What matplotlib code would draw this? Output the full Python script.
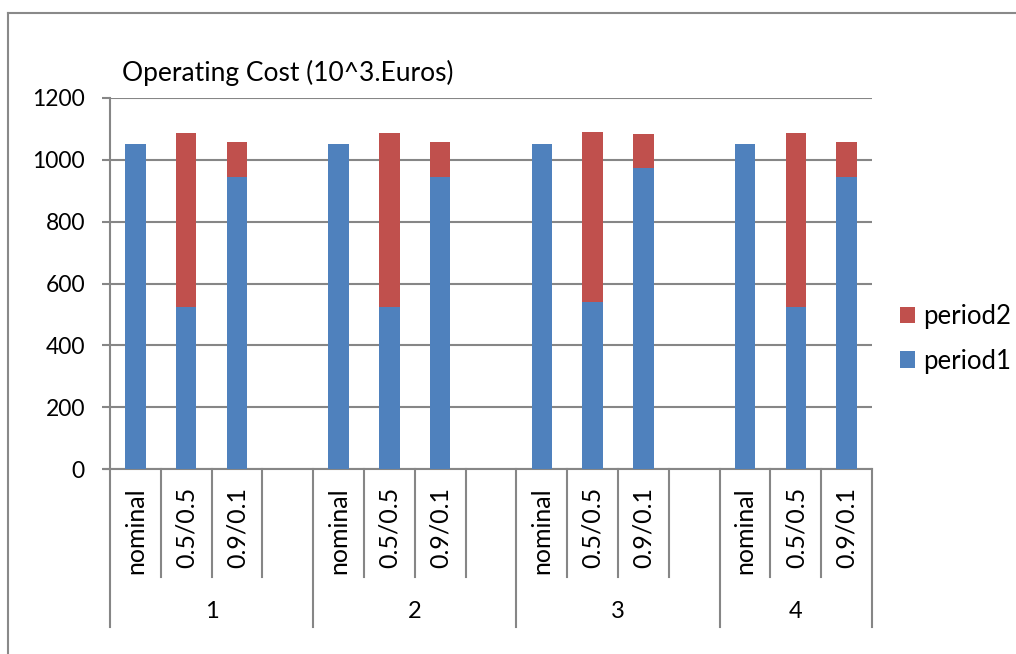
import numpy as np
import matplotlib.pyplot as plt
from matplotlib.lines import Line2D

plt.rcParams['font.family'] = ['Lato', 'DejaVu Sans']

groups = ['1', '2', '3', '4']
cases = ['nominal', '0.5/0.5', '0.9/0.1']
# period1 / period2 par groupe (nominal, 0.5/0.5, 0.9/0.1)
period1 = [
    [1050, 524, 946],
    [1050, 524, 946],
    [1050, 541, 972],
    [1050, 524, 946],
]
period2 = [
    [0, 562, 111],
    [0, 562, 111],
    [0, 549, 110],
    [0, 562, 111],
]
yticks = [0, 200, 400, 600, 800, 1000, 1200]

blue = '#4F81BD'
red = '#C0504D'
grid_c = '#868686'

W, H = 1016, 654
fig = plt.figure(figsize=(W / 100, H / 100), dpi=100)
ax = fig.add_axes([110 / W, 1 - 469 / H, 762 / W, 371 / H])

# positions : 4 cases par groupe (dernière vide), le groupe 4 n'en a que 3
xs, p1, p2, labels = [], [], [], []
pos = 0
for g in range(len(groups)):
    for j in range(len(cases)):
        xs.append(pos + j)
        p1.append(period1[g][j])
        p2.append(period2[g][j])
        labels.append(cases[j])
    pos += 4
xs = np.array(xs)
n_slots = pos - 1

ax.bar(xs, p1, width=0.4, color=blue, label='period1', zorder=3)
ax.bar(xs, p2, width=0.4, bottom=p1, color=red, label='period2', zorder=3)

ax.set_xlim(-0.5, n_slots - 0.5)
ax.set_ylim(0, 1200)
ax.set_yticks(yticks)
for y in yticks:
    ax.axhline(y, color=grid_c, lw=1.5, zorder=1)

for s in ['top', 'right', 'bottom']:
    ax.spines[s].set_visible(False)
ax.spines['left'].set_color(grid_c)
ax.spines['left'].set_linewidth(1.5)
ax.tick_params(axis='y', length=6, width=1.5, color=grid_c, labelsize=16.5, pad=12)
ax.set_xticks([])
ax.tick_params(axis='x', length=0)

# étiquettes de catégories et séparateurs
tr = ax.get_xaxis_transform()
short = -108 / 371
long_ = -158 / 371
for x, lab in zip(xs, labels):
    ax.text(x, -18 / 371, lab, transform=tr, rotation=90, ha='center', va='top',
            fontsize=18)
group_edges = [-0.5 + 4 * g for g in range(len(groups))] + [n_slots - 0.5]
for k in range(n_slots + 1):
    xb = -0.5 + k
    y0 = long_ if xb in group_edges else short
    ax.plot([xb, xb], [0, y0], transform=tr, color=grid_c, lw=1.5, clip_on=False)
ax.plot([-0.5 - 6 / 50.8, n_slots - 0.5], [0, 0], transform=tr, color=grid_c, lw=1.5,
        clip_on=False)
for g in range(len(groups)):
    xc = (group_edges[g] + group_edges[g + 1]) / 2
    ax.text(xc, -143 / 371, groups[g], transform=tr, ha='center', va='center', fontsize=17)

fig.text(122 / W, 1 - 73 / H, 'Operating Cost (10^3.Euros)', ha='left', va='center',
         fontsize=19)

h, l = ax.get_legend_handles_labels()
fig.legend(h[::-1], l[::-1], loc='center left', bbox_to_anchor=(900 / W, 1 - 339 / H),
           frameon=False, fontsize=18.5, handlelength=0.6, handleheight=0.6,
           handletextpad=0.3, labelspacing=0.75, borderpad=0, borderaxespad=0)

# cadre de la zone graphique
fig.add_artist(Line2D([8 / W, 1], [1 - 13 / H, 1 - 13 / H], color='#898989', lw=1.5))
fig.add_artist(Line2D([8 / W, 8 / W], [0, 1 - 13 / H], color='#898989', lw=1.5))

fig.savefig('out.png', dpi=100)
